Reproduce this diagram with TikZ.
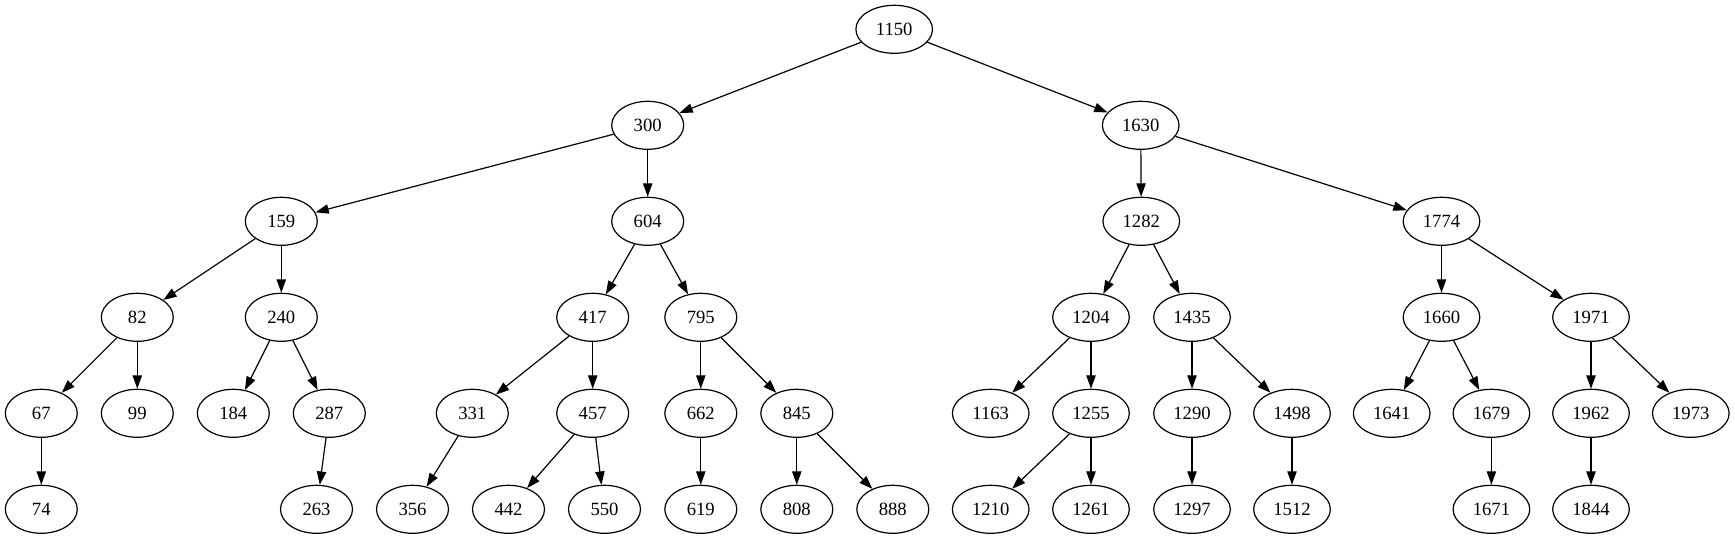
\documentclass[tikz,border=0pt]{standalone}
\usepackage{fontspec}
\setmainfont{Liberation Serif}
\usetikzlibrary{arrows.meta,shapes.geometric}
\tikzset{every picture/.style={
  >={Triangle[length=10pt,width=7pt]}  % Graphviz style arrows.
  }
}

\begin{document}
\begin{tikzpicture}[
      x=0.75pt,
      y=-0.75pt,
      line width=0.9pt,
      kn/.style={
        ellipse,
        draw,
        minimum width=#1,
        minimum height=36pt,
        inner sep=0pt,
        font=\fontsize{14}{16}\selectfont
      },
      kn/.default=54pt,
      kw/.style={kn=57.5pt}]

      \useasboundingbox (0,0) rectangle (1735,539);

      % Draw the upper levels of the tree.
      \node[kw] (k1150) at (894.2,29.3) {1150};

      \node[kn] (k300)  at (647.7,125.3) {300};
      \node[kw] (k1630) at (1140.7,125.3) {1630};

      \node[kn] (k159)  at (281.3,221.3) {159};
      \node[kn] (k604)  at (647.7,221.3) {604};
      \node[kw] (k1282) at (1141.3,221.3) {1282};
      \node[kw] (k1774) at (1441.5,221.3) {1774};

      \node[kn] (k82)   at (137.3,317.3) {82};
      \node[kn] (k240)  at (281.3,317.3) {240};
      \node[kn] (k417)  at (592.7,317.3) {417};
      \node[kn] (k795)  at (700.8,317.3) {795};
      \node[kw] (k1204) at (1091,317.3) {1204};
      \node[kw] (k1435) at (1192,317.3) {1435};
      \node[kw] (k1660) at (1441.5,317.3) {1660};
      \node[kw] (k1971) at (1591,317.3) {1971};

      % Draw the lower levels.
      \node[kn] (k67)   at (41.3,413.3) {67};
      \node[kn] (k99)   at (137.3,413.3) {99};
      \node[kn] (k184)  at (233.3,413.3) {184};
      \node[kn] (k287)  at (329.3,413.3) {287};
      \node[kn] (k331)  at (472.3,413.3) {331};
      \node[kn] (k457)  at (592.7,413.3) {457};
      \node[kn] (k662)  at (700.8,413.3) {662};
      \node[kn] (k845)  at (796.8,413.3) {845};
      \node[kw] (k1163) at (990.7,413.3) {1163};
      \node[kw] (k1255) at (1091,413.3) {1255};
      \node[kw] (k1290) at (1192,413.3) {1290};
      \node[kw] (k1498) at (1292,413.3) {1498};
      \node[kw] (k1641) at (1391.7,413.3) {1641};
      \node[kw] (k1679) at (1491.4,413.3) {1679};
      \node[kw] (k1962) at (1591,413.3) {1962};
      \node[kw] (k1973) at (1690.8,413.3) {1973};

      \node[kn] (k74)   at (41.3,509.3) {74};
      \node[kn] (k263)  at (316.5,509.3) {263};
      \node[kn] (k356)  at (412.5,509.3) {356};
      \node[kn] (k442)  at (508.5,509.3) {442};
      \node[kn] (k550)  at (604.5,509.3) {550};
      \node[kn] (k619)  at (700.8,509.3) {619};
      \node[kn] (k808)  at (796.8,509.3) {808};
      \node[kn] (k888)  at (892.8,509.3) {888};
      \node[kw] (k1210) at (990.7,509.3) {1210};
      \node[kw] (k1261) at (1091,509.3) {1261};
      \node[kw] (k1297) at (1192,509.3) {1297};
      \node[kw] (k1512) at (1292,509.3) {1512};
      \node[kw] (k1671) at (1491.4,509.3) {1671};
      \node[kw] (k1844) at (1591,509.3) {1844};

      % Draw the links.
      \def\lnk#1#2{ \draw[->] (k#1) -- (k#2) }; % Helper.

      \lnk{1150}{300};   \lnk{1150}{1630};
      \lnk{300}{159};    \lnk{300}{604};
      \lnk{1630}{1282};  \lnk{1630}{1774};
      \lnk{159}{82};     \lnk{159}{240};
      \lnk{604}{417};    \lnk{604}{795};
      \lnk{1282}{1204};  \lnk{1282}{1435};
      \lnk{1774}{1660};  \lnk{1774}{1971};
      \lnk{82}{67};      \lnk{82}{99};
      \lnk{240}{184};    \lnk{240}{287};
      \lnk{417}{331};    \lnk{417}{457};
      \lnk{795}{662};    \lnk{795}{845};
      \lnk{1204}{1163};  \lnk{1204}{1255};
      \lnk{1435}{1290};  \lnk{1435}{1498};
      \lnk{1660}{1641};  \lnk{1660}{1679};
      \lnk{1971}{1962};  \lnk{1971}{1973};
      \lnk{67}{74};
      \lnk{287}{263};
      \lnk{331}{356};
      \lnk{457}{442};    \lnk{457}{550};
      \lnk{662}{619};
      \lnk{845}{808};    \lnk{845}{888};
      \lnk{1255}{1210};  \lnk{1255}{1261};
      \lnk{1290}{1297};
      \lnk{1498}{1512};
      \lnk{1679}{1671};
      \lnk{1962}{1844};

    \end{tikzpicture}
\end{document}
